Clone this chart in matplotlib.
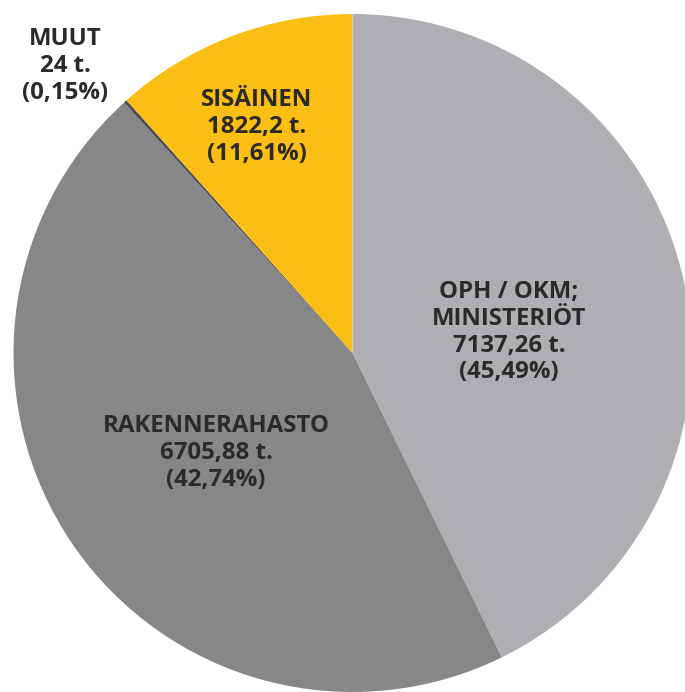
import numpy as np
import matplotlib.pyplot as plt

# values as printed in the labels
categories = ['OPH / OKM;\nMINISTERIÖT', 'RAKENNERAHASTO', 'MUUT', 'SISÄINEN']
amounts = ['7137,26', '6705,88', '24', '1822,2']
percents = ['45,49', '42,74', '0,15', '11,61']

# wedge sizes clockwise from the top, as the arcs are drawn in the picture
# (the light grey slice is drawn with the smaller of the two big values)
wedge_values = [6705.88, 7137.26, 24, 1822.2]
wedge_colors = ['#aeafb3', '#878787', '#4e4e50', '#fbbe15']

W, H = 685, 692

fig = plt.figure(figsize=(W / 100, H / 100), dpi=100)
ax = fig.add_axes([0, 0, 1, 1])
ax.pie(wedge_values, colors=wedge_colors, startangle=90, counterclock=False,
       center=(352.5, H - 353), radius=339,
       wedgeprops=dict(linewidth=0, antialiased=True))
ax.set_xlim(0, W)
ax.set_ylim(0, H)
ax.set_aspect('equal')
ax.axis('off')

# label positions: centre x and first baseline y, in pixels from the top
label_pos = {
    'OPH / OKM;\nMINISTERIÖT': (509, 298),
    'RAKENNERAHASTO': (216, 432),
    'MUUT': (65.5, 45),
    'SISÄINEN': (256.5, 106),
}
step = 26.8
for cat, amt, pct in zip(categories, amounts, percents):
    x, y0 = label_pos[cat]
    lines = cat.split('\n') + [amt + ' t.', '(' + pct + '%)']
    for i, line in enumerate(lines):
        ax.text(x, H - (y0 + i * step), line, ha='center', va='baseline',
                fontsize=17.3, fontweight='bold', family=['Open Sans', 'DejaVu Sans'],
                color='#2b2a29')

fig.savefig('out.png', dpi=100)
